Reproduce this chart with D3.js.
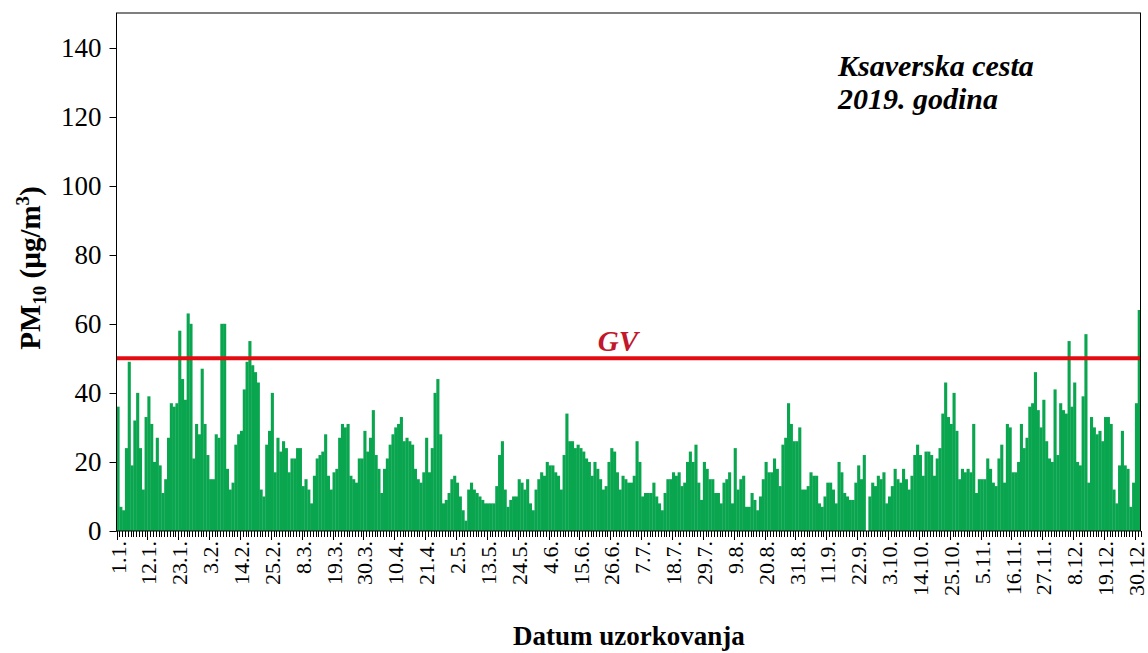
<!DOCTYPE html>
<html>
<head>
<meta charset="utf-8">
<script src="https://cdn.jsdelivr.net/npm/d3@7"></script>
</head>
<body style="margin:0">
<svg id="chart" width="1148" height="653"></svg>
<script>
// Daily PM10 mass concentrations (µg/m3), Ksaverska cesta, 2019 – one array per month
const year = 2019;
const jan = [36, 7, 6, 24, 49, 19, 32, 40, 24, 12, 33, 39, 31, 20, 27, 19, 11, 15, 27, 37, 36, 37, 58, 44, 38, 63, 60, 21, 31, 28, 47];
const feb = [31, 22, 15, 15, 28, 27, 60, 60, 18, 12, 14, 25, 28, 29, 41, 49, 55, 48, 46, 43, 12, 10, 25, 29, 40, 17, 27, 23];
const mar = [26, 24, 17, 21, 21, 24, 24, 13, 15, 12, 8, 16, 21, 22, 23, 28, 16, 12, 17, 18, 27, 31, 30, 31, 16, 15, 14, 21, 21, 29, 23];
const apr = [27, 35, 22, 18, 11, 18, 21, 25, 28, 30, 31, 33, 26, 27, 26, 25, 18, 15, 14, 17, 27, 17, 24, 40, 44, 28, 8, 9, 11, 15];
const may = [16, 14, 10, 6, 3, 12, 14, 12, 11, 10, 9, 8, 8, 8, 8, 13, 22, 26, 12, 7, 9, 10, 10, 15, 14, 12, 15, 8, 6, 12, 15];
const jun = [17, 16, 20, 19, 19, 17, 16, 12, 22, 34, 26, 26, 24, 25, 24, 23, 21, 20, 16, 20, 18, 15, 12, 13, 20, 24, 23, 17, 12, 16];
const jul = [15, 14, 14, 16, 26, 20, 10, 11, 11, 11, 14, 10, 8, 6, 11, 15, 15, 17, 16, 17, 13, 14, 20, 23, 20, 25, 14, 9, 20, 18, 15];
const aug = [15, 11, 11, 8, 14, 15, 17, 8, 24, 12, 15, 16, 7, 7, 11, 9, 6, 10, 15, 20, 17, 17, 21, 18, 13, 25, 27, 37, 31, 26, 26];
const sep = [30, 12, 12, 13, 17, 16, 16, 8, 7, 10, 14, 14, 12, 8, 20, 17, 11, 10, 9, 9, 14, 19, 15, 22, null, 10, 14, 13, 16, 15];
const oct = [17, 8, 10, 13, 18, 15, 14, 18, 15, 12, 16, 22, 25, 22, 16, 23, 23, 22, 16, 21, 24, 34, 43, 33, 31, 40, 29, 15, 18, 17, 18];
const nov = [17, 31, 11, 15, 15, 15, 21, 18, 14, 13, 21, 25, 14, 31, 30, 17, 17, 20, 31, 24, 27, 36, 37, 46, 35, 30, 38, 26, 21, 20];
const dec = [41, 22, 37, 35, 34, 55, 36, 43, 20, 19, 39, 57, 14, 33, 30, 28, 29, 26, 33, 33, 31, 12, 8, 19, 29, 19, 18, 7, 14, 37, 64];

const limitValue = 50;                 // daily limit value (GV)
const yTicks = [0, 20, 40, 60, 80, 100, 120, 140];
const yMax = 150;
const labelStep = 11;                  // a date label every 11 days
const stationLines = ["Ksaverska cesta", "2019. godina"];
const yTitle = { main: "PM", sub: "10", mid: " (µg/m", sup: "3", end: ")" };
const xTitle = "Datum uzorkovanja";

const FONT = '"Liberation Serif"';

const pm10 = [jan, feb, mar, apr, may, jun, jul, aug, sep, oct, nov, dec].flat();
const days = d3.range(pm10.length);
const dayLabel = i => {
  const d = new Date(year, 0, 1 + i);
  return `${d.getDate()}.${d.getMonth() + 1}.`;
};

const svg = d3.select("#chart");
const plot = { left: 116.5, right: 1140.5, top: 13, bottom: 531 };

const x = d3.scaleBand().domain(days).range([plot.left, plot.right]).padding(0);
const y = d3.scaleLinear().domain([0, yMax]).range([plot.bottom, plot.top]);

// bars
svg.append("g")
  .selectAll("rect")
  .data(days.filter(i => pm10[i] != null))
  .join("rect")
  .attr("x", i => x(i))
  .attr("width", x.bandwidth() + 0.3)
  .attr("y", i => y(pm10[i]))
  .attr("height", i => y(0) - y(pm10[i]))
  .attr("fill", "#0aa64f");

// limit line
svg.append("line")
  .attr("x1", plot.left).attr("x2", plot.right)
  .attr("y1", y(limitValue)).attr("y2", y(limitValue))
  .attr("stroke", "#e30c13").attr("stroke-width", 4);

svg.append("text")
  .attr("x", 618).attr("y", y(limitValue) - 7)
  .attr("text-anchor", "middle")
  .style("font-family", FONT)
  .attr("font-size", 29).attr("font-weight", "bold").attr("font-style", "italic")
  .attr("fill", "#c2182b")
  .text("GV");

// plot frame
svg.append("rect")
  .attr("x", plot.left).attr("y", plot.top)
  .attr("width", plot.right - plot.left).attr("height", plot.bottom - plot.top)
  .attr("fill", "none").attr("stroke", "#000").attr("stroke-width", 1);

// y axis (ticks and labels drawn from the linear scale)
const yAxisG = svg.append("g");
yAxisG.selectAll("line")
  .data(yTicks)
  .join("line")
  .attr("x1", plot.left - 7).attr("x2", plot.left)
  .attr("y1", d => Math.round(y(d)) + 0.5).attr("y2", d => Math.round(y(d)) + 0.5)
  .attr("stroke", "#000");
yAxisG.selectAll("text")
  .data(yTicks)
  .join("text")
  .attr("x", plot.left - 15)
  .attr("y", d => y(d))
  .attr("dy", "0.34em")
  .attr("text-anchor", "end")
  .style("font-family", FONT)
  .attr("font-size", 27)
  .text(d => d);

// x axis: a tick at every day boundary, longer ones every 11 days
const edges = d3.range(pm10.length + 1);
const edgeX = i => (i < pm10.length ? x(i) : x(pm10.length - 1) + x.bandwidth());
svg.append("g")
  .selectAll("line")
  .data(edges)
  .join("line")
  .attr("x1", i => Math.round(edgeX(i)) + 0.5).attr("x2", i => Math.round(edgeX(i)) + 0.5)
  .attr("y1", plot.bottom).attr("y2", i => plot.bottom + (i % labelStep === 0 ? 9 : 6))
  .attr("stroke", "#000").attr("stroke-width", 1);

const labelDays = days.filter(i => i % labelStep === 0);
svg.append("g")
  .selectAll("text")
  .data(labelDays)
  .join("text")
  .attr("transform", i => `translate(${x(i) + x.bandwidth() / 2},${plot.bottom + 10}) rotate(-90)`)
  .attr("text-anchor", "end")
  .attr("dy", "0.35em")
  .style("font-family", FONT)
  .attr("font-size", 22)
  .text(dayLabel);

// axis titles
const yt = svg.append("text")
  .attr("transform", `translate(40,268) rotate(-90)`)
  .attr("text-anchor", "middle")
  .style("font-family", FONT)
  .attr("font-size", 29).attr("font-weight", "bold");
yt.append("tspan").text(yTitle.main);
yt.append("tspan").attr("font-size", 19).attr("dy", 6).text(yTitle.sub);
yt.append("tspan").attr("dy", -6).text(yTitle.mid);
yt.append("tspan").attr("font-size", 19).attr("dy", -11).text(yTitle.sup);
yt.append("tspan").attr("dy", 11).text(yTitle.end);

svg.append("text")
  .attr("x", 629).attr("y", 645)
  .attr("text-anchor", "middle")
  .style("font-family", FONT)
  .attr("font-size", 27).attr("font-weight", "bold")
  .text(xTitle);

// station / year caption
svg.append("g")
  .selectAll("text")
  .data(stationLines)
  .join("text")
  .attr("x", 838).attr("y", (d, i) => 76 + i * 33)
  .style("font-family", FONT)
  .attr("font-size", 30).attr("font-weight", "bold").attr("font-style", "italic")
  .text(d => d);
</script>
</body>
</html>
